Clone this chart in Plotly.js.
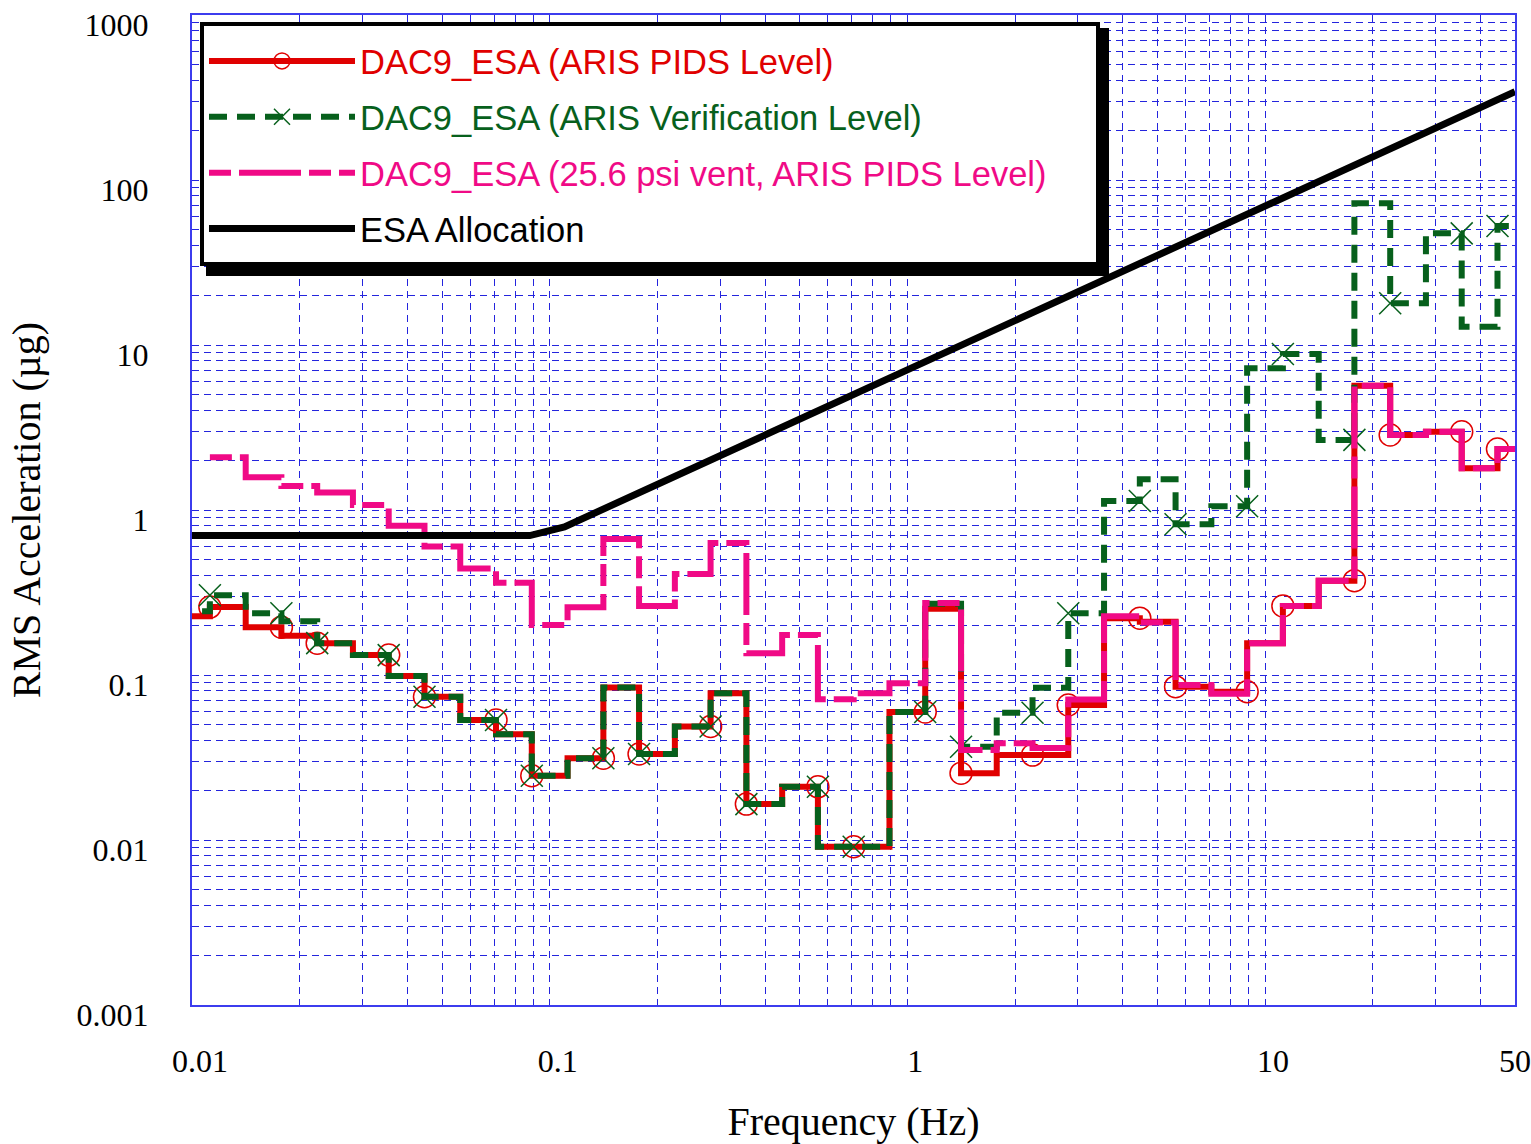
<!DOCTYPE html>
<html>
<head>
<meta charset="utf-8">
<script src="https://cdn.plot.ly/plotly-3.0.1.min.js"></script>
<style>
html,body{margin:0;padding:0;background:#fff;}
#chart{width:1531px;height:1144px;}
</style>
</head>
<body>
<div id="chart"></div>
<script>
// Third-octave band edges (Hz), 38 bands centred 0.01 ... 50 Hz
const bandEdges = [0.00891, 0.01122, 0.01413, 0.01778, 0.02239, 0.02818, 0.03548, 0.04467, 0.05623, 0.07079,
  0.08913, 0.1122, 0.1413, 0.1778, 0.2239, 0.2818, 0.3548, 0.4467, 0.5623, 0.7079,
  0.8913, 1.122, 1.413, 1.778, 2.239, 2.818, 3.548, 4.467, 5.623, 7.079,
  8.913, 11.22, 14.13, 17.78, 22.39, 28.18, 35.48, 44.67, 56.23];

// RMS acceleration per band (micro-g)
const pidsLevel = [0.227, 0.258, 0.195, 0.173, 0.156, 0.132, 0.0986, 0.0738, 0.0533, 0.0438,
  0.0245, 0.0313, 0.0839, 0.0332, 0.0487, 0.0775, 0.0165, 0.0210, 0.0091, 0.0091,
  0.0597, 0.252, 0.0254, 0.0327, 0.0327, 0.0658, 0.221, 0.2105, 0.085, 0.0792,
  0.1556, 0.262, 0.373, 5.66, 2.85, 2.98, 1.79, 2.34];

const verifLevel = [0.243, 0.304, 0.2366, 0.212, 0.156, 0.132, 0.0986, 0.0738, 0.0533, 0.0438,
  0.0245, 0.0313, 0.0839, 0.0332, 0.0487, 0.0775, 0.0165, 0.0210, 0.0091, 0.0091,
  0.0597, 0.27, 0.0367, 0.059, 0.0838, 0.2366, 1.134, 1.535, 0.819, 1.053,
  7.23, 8.81, 2.66, 72.3, 17.9, 47.5, 12.9, 52.6];

const ventLevel = [null, 2.086, 1.578, 1.40, 1.277, 1.072, 0.804, 0.60, 0.4417, 0.3625,
  0.201, 0.257, 0.667, 0.262, 0.409, 0.631, 0.1355, 0.1746, 0.0713, 0.0775,
  0.0891, 0.273, 0.0351, 0.0386, 0.0361, 0.071, 0.227, 0.208, 0.087, 0.077,
  0.1556, 0.262, 0.373, 5.66, 2.85, 2.98, 1.79, 2.34];

// ESA allocation curve
const allocFreq = [0.01, 0.088, 0.11, 1, 10, 50];
const allocLevel = [0.70, 0.70, 0.79, 7.0, 69.5, 343];

const seriesNames = [
  'DAC9_ESA (ARIS PIDS Level)',
  'DAC9_ESA (ARIS Verification Level)',
  'DAC9_ESA (25.6 psi vent, ARIS PIDS Level)',
  'ESA Allocation'
];

const xTickVals = [0.01, 0.1, 1, 10, 50];
const xTickText = ['0.01', '0.1', '1', '10', '50'];
const yTickVals = [0.001, 0.01, 0.1, 1, 10, 100, 1000];
const yTickText = ['0.001', '0.01', '0.1', '1', '10', '100', '1000'];

const RED = '#E00000', GREEN = '#07601C', PINK = '#F00A86';

function steps(vals) {
  const x = [], y = [];
  vals.forEach((v, k) => {
    if (v === null) return;
    x.push(bandEdges[k], bandEdges[k + 1]);
    y.push(v, v);
  });
  return {x, y};
}
function markerColors(n, col) {
  const c = [];
  for (let i = 0; i < n; i++) {
    c.push((i === 0 || (i >= 2 && (i - 2) % 3 === 0)) ? col : 'rgba(0,0,0,0)');
  }
  return c;
}

const sRed = steps(pidsLevel), sGreen = steps(verifLevel), sPink = steps(ventLevel);

const traces = [
  {
    x: sRed.x, y: sRed.y, type: 'scatter', mode: 'lines+markers',
    name: '<span style="color:' + RED + '">' + seriesNames[0] + '</span>', legendgroup: 'a',
    line: {color: RED, width: 6},
    marker: {symbol: 'circle-open', size: 22, color: markerColors(sRed.x.length, RED), line: {width: 1.5}}
  },
  {
    x: sGreen.x, y: sGreen.y, type: 'scatter', mode: 'lines+markers',
    name: '<span style="color:' + GREEN + '">' + seriesNames[1] + '</span>', legendgroup: 'b',
    line: {color: GREEN, width: 6, dash: '18px,10px'},
    marker: {symbol: 'x-thin-open', size: 22, color: markerColors(sGreen.x.length, GREEN), line: {width: 1.5}}
  },
  {
    x: sPink.x, y: sPink.y, type: 'scatter', mode: 'lines',
    name: '<span style="color:' + PINK + '">' + seriesNames[2] + '</span>', legendgroup: 'c',
    line: {color: PINK, width: 6, dash: '22px,8px,62px,8px'}
  },
  {
    x: allocFreq, y: allocLevel, type: 'scatter', mode: 'lines',
    name: seriesNames[3], legendgroup: 'd',
    line: {color: 'black', width: 7}
  }
];

function minorVals(decades, maxV) {
  const out = [];
  decades.forEach(d => { for (let m = 2; m <= 9; m++) { if (m * d < maxV) out.push(m * d); } });
  return out;
}
// nudge the first labels right like the original, keep "50" inside the page
const xTickLabels = xTickText.map((t, i) => (i < xTickText.length - 1 ? '\u00a0\u00a0' + t : t));

const GRID = '#2424DD';
const gridDash = '7px,5px';

const M = {l: 192, r: 16, t: 15, b: 139};
const W = 1531, H = 1144;
const pw = W - M.l - M.r, ph = H - M.t - M.b;
const px = v => (v - M.l) / pw;
const py = v => 1 - (v - M.t) / ph;

const layout = {
  width: W, height: H,
  margin: M,
  paper_bgcolor: 'white', plot_bgcolor: 'white',
  font: {family: 'Liberation Serif, Times New Roman, serif', color: 'black'},
  showlegend: true,
  legend: {
    x: px(204), y: py(32), xanchor: 'left', yanchor: 'top',
    bgcolor: 'rgba(0,0,0,0)', borderwidth: 0,
    font: {family: 'Liberation Sans, Arial, sans-serif', size: 34.5, color: 'black'},
    itemwidth: 146, traceorder: 'grouped', tracegroupgap: 8
  },
  shapes: [
    {type: 'rect', xref: 'paper', yref: 'paper', layer: 'above',
     x0: px(206), x1: px(1109), y0: py(276), y1: py(28),
     fillcolor: 'black', line: {width: 0}},
    {type: 'rect', xref: 'paper', yref: 'paper', layer: 'above',
     x0: px(202), x1: px(1098), y0: py(264), y1: py(24),
     fillcolor: 'white', line: {color: 'black', width: 4}}
  ],
  xaxis: {
    type: 'log', range: [Math.log10(0.01), Math.log10(50)],
    tickmode: 'array', tickvals: xTickVals, ticktext: xTickLabels,
    ticks: '', ticklabelstandoff: 27,
    tickfont: {size: 32, family: 'Liberation Serif, serif'},
    showgrid: true, gridcolor: GRID, gridwidth: 1, griddash: gridDash,
    minor: {tickmode: 'array', tickvals: minorVals([0.01, 0.1, 1, 10], 50), showgrid: true,
            gridcolor: GRID, gridwidth: 1, griddash: gridDash, ticks: ''},
    showline: true, mirror: true, linecolor: '#3C3CEE', linewidth: 2, zeroline: false,
    title: {text: 'Frequency (Hz)', font: {size: 40, family: 'Liberation Serif, serif'}, standoff: 37}
  },
  yaxis: {
    type: 'log', range: [-3, 3],
    tickmode: 'array', tickvals: yTickVals, ticktext: yTickText,
    ticks: '', ticklabelstandoff: 35, ticklabelshift: 10, ticklabeloverflow: 'allow',
    tickfont: {size: 32, family: 'Liberation Serif, serif'},
    showgrid: true, gridcolor: GRID, gridwidth: 1, griddash: gridDash,
    minor: {tickmode: 'array', tickvals: minorVals([0.001, 0.01, 0.1, 1, 10, 100], 1000), showgrid: true,
            gridcolor: GRID, gridwidth: 1, griddash: gridDash, ticks: ''},
    showline: true, mirror: true, linecolor: '#3C3CEE', linewidth: 2, zeroline: false,
    title: {text: 'RMS Acceleration (µg)', font: {size: 40, family: 'Liberation Serif, serif'}, standoff: 24}
  }
};

Plotly.newPlot('chart', traces, layout, {displayModeBar: false, responsive: false});
</script>
</body>
</html>
